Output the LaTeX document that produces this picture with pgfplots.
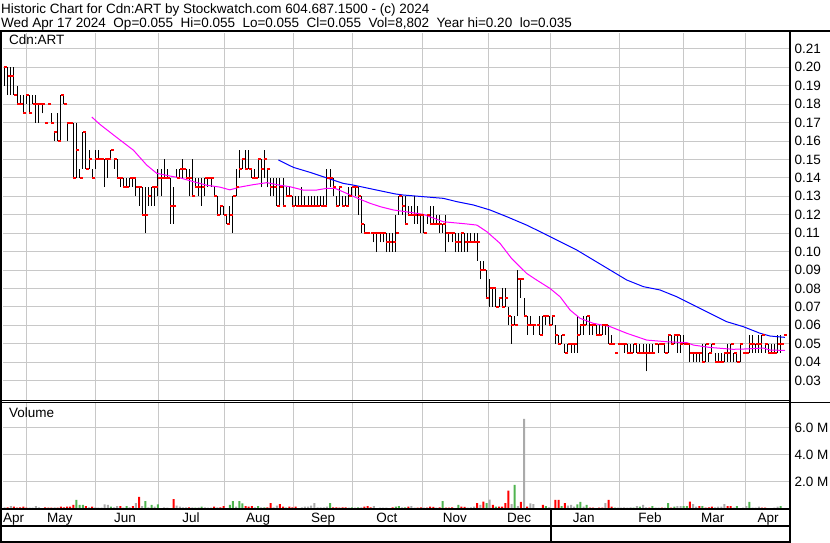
\documentclass[border=0pt]{standalone}
\usepackage{fontspec}
\setmainfont{Liberation Sans}
\usepackage{pgfplots}
\usepackage{pgfplotstable}
\pgfplotsset{compat=1.18}

\definecolor{gridgray}{RGB}{200,200,200}
\definecolor{volgreen}{RGB}{80,180,80}
\definecolor{volred}{RGB}{255,0,0}
\definecolor{volgray}{RGB}{170,170,170}
\definecolor{ma20}{RGB}{255,0,255}
\definecolor{ma50}{RGB}{0,0,255}
\definecolor{closered}{RGB}{255,0,0}

\pgfplotsset{
  panel/.style={
    scale only axis, width=787pt, anchor=south west,
    xmin=-0.48, xmax=250.96,
    xtick={7,29,49.3,70.2,92.2,111.3,133.5,154.5,174.6,196.6,216.9,236.9},
    xticklabels={},
    xmajorgrids, ymajorgrids,
    grid style={gridgray, line width=1pt},
    major tick length=0pt,
    axis line style={draw=none},
    yticklabel pos=right,
    tick label style={font=\fontsize{13.5}{15}\selectfont, /pgf/number format/assume math mode=true},
  },
  volbar/.style={ybar, bar width=2pt, bar shift=0pt, draw=none, fill=#1},
}

% daily bars: index, high, low, close
\pgfplotstableread{
i H L C
0 0.20 0.19 0.20
1 0.20 0.185 0.195
2 0.20 0.185 0.195
3 0.20 0.185 0.185
4 0.19 0.18 0.18
5 0.185 0.18 0.18
6 0.185 0.175 0.175
7 0.185 0.18 0.185
8 0.185 0.175 0.175
9 0.185 0.18 0.18
10 0.185 0.17 0.18
11 0.18 0.17 0.18
12 0.18 0.175 0.18
13 0.17 0.17 0.17
14 0.18 0.18 0.18
15 0.175 0.17 0.17
16 0.165 0.16 0.165
17 0.175 0.16 0.16
18 0.185 0.16 0.185
19 0.185 0.18 0.18
20 0.17 0.16 0.17
21 0.17 0.17 0.17
22 0.17 0.14 0.14
23 0.17 0.14 0.155
24 0.145 0.14 0.14
25 0.165 0.145 0.165
26 0.165 0.145 0.145
27 0.155 0.145 0.15
28 0.145 0.14 0.14
29 0.155 0.145 0.15
30 0.155 0.15 0.15
31 0.15 0.15 0.15
32 0.15 0.135 0.15
33 0.15 0.14 0.15
34 0.155 0.15 0.155
35 0.15 0.145 0.15
36 0.15 0.14 0.14
37 0.14 0.135 0.14
38 0.14 0.135 0.135
39 0.14 0.135 0.135
40 0.14 0.135 0.14
41 0.14 0.135 0.14
42 0.14 0.13 0.135
43 0.135 0.125 0.135
44 0.135 0.12 0.12
45 0.135 0.11 0.12
46 0.135 0.125 0.13
47 0.135 0.125 0.135
48 0.135 0.125 0.135
49 0.145 0.13 0.14
50 0.145 0.13 0.14
51 0.15 0.14 0.14
52 0.145 0.14 0.14
53 0.14 0.115 0.125
54 0.135 0.115 0.125
55 0.145 0.14 0.14
56 0.145 0.14 0.145
57 0.15 0.14 0.145
58 0.145 0.14 0.14
59 0.145 0.13 0.14
60 0.15 0.13 0.13
61 0.14 0.135 0.135
62 0.14 0.13 0.135
63 0.14 0.125 0.135
64 0.14 0.13 0.14
65 0.14 0.135 0.14
66 0.14 0.135 0.14
67 0.135 0.13 0.13
68 0.13 0.12 0.12
69 0.125 0.12 0.125
70 0.125 0.12 0.12
71 0.12 0.115 0.115
72 0.125 0.115 0.12
73 0.13 0.11 0.13
74 0.145 0.13 0.135
75 0.155 0.14 0.145
76 0.15 0.145 0.15
77 0.155 0.145 0.145
78 0.155 0.145 0.145
79 0.145 0.14 0.14
80 0.145 0.14 0.14
81 0.15 0.14 0.15
82 0.15 0.135 0.145
83 0.155 0.14 0.15
84 0.145 0.135 0.145
85 0.14 0.13 0.135
86 0.14 0.13 0.135
87 0.14 0.125 0.125
88 0.14 0.125 0.135
89 0.14 0.125 0.125
90 0.135 0.13 0.13
91 0.135 0.13 0.13
92 0.13 0.125 0.125
93 0.13 0.125 0.125
94 0.13 0.125 0.125
95 0.135 0.125 0.125
96 0.13 0.125 0.125
97 0.13 0.125 0.125
98 0.13 0.125 0.125
99 0.13 0.125 0.125
100 0.13 0.125 0.125
101 0.13 0.125 0.125
102 0.13 0.125 0.125
103 0.145 0.125 0.14
104 0.145 0.135 0.14
105 0.14 0.13 0.135
106 0.13 0.125 0.125
107 0.135 0.125 0.135
108 0.13 0.125 0.125
109 0.13 0.125 0.125
110 0.135 0.125 0.13
111 0.135 0.13 0.135
112 0.135 0.13 0.135
113 0.135 0.12 0.13
114 0.13 0.11 0.115
115 0.115 0.11 0.11
116 0.11 0.11 0.11
117 0.11 0.11 0.11
118 0.11 0.105 0.11
119 0.11 0.10 0.11
120 0.11 0.105 0.11
121 0.11 0.105 0.11
122 0.11 0.10 0.105
123 0.11 0.10 0.105
124 0.11 0.10 0.105
125 0.12 0.10 0.11
126 0.13 0.12 0.13
127 0.13 0.12 0.125
128 0.13 0.115 0.115
129 0.125 0.12 0.12
130 0.125 0.12 0.12
131 0.13 0.115 0.12
132 0.125 0.115 0.12
133 0.12 0.11 0.12
134 0.12 0.11 0.11
135 0.12 0.115 0.12
136 0.125 0.115 0.115
137 0.125 0.115 0.115
138 0.12 0.115 0.115
139 0.12 0.11 0.115
140 0.115 0.11 0.115
141 0.12 0.10 0.11
142 0.11 0.105 0.11
143 0.11 0.105 0.11
144 0.11 0.10 0.105
145 0.11 0.10 0.105
146 0.11 0.10 0.11
147 0.11 0.10 0.105
148 0.11 0.10 0.105
149 0.11 0.105 0.105
150 0.11 0.105 0.105
151 0.11 0.095 0.105
152 0.095 0.085 0.09
153 0.095 0.09 0.09
154 0.09 0.075 0.075
155 0.085 0.07 0.08
156 0.08 0.07 0.08
157 0.08 0.07 0.07
158 0.075 0.07 0.075
159 0.08 0.07 0.07
160 0.08 0.07 0.075
161 0.07 0.06 0.065
162 0.065 0.05 0.06
163 0.065 0.06 0.06
164 0.09 0.065 0.085
165 0.085 0.075 0.085
166 0.075 0.065 0.065
167 0.065 0.055 0.06
168 0.065 0.06 0.06
169 0.06 0.055 0.06
170 0.06 0.06 0.06
171 0.065 0.055 0.055
172 0.065 0.055 0.065
173 0.065 0.06 0.065
174 0.065 0.06 0.06
175 0.065 0.06 0.065
176 0.06 0.05 0.055
177 0.055 0.05 0.05
178 0.055 0.05 0.055
179 0.05 0.045 0.045
180 0.05 0.045 0.05
181 0.05 0.045 0.05
182 0.05 0.045 0.05
183 0.065 0.045 0.055
184 0.06 0.055 0.06
185 0.065 0.055 0.06
186 0.065 0.06 0.065
187 0.065 0.055 0.06
188 0.06 0.055 0.06
189 0.06 0.055 0.055
190 0.06 0.055 0.055
191 0.06 0.055 0.06
192 0.06 0.055 0.06
193 0.06 0.05 0.05
194 0.055 0.05 0.05
195 0.045 0.045 0.045
196 0.05 0.05 0.05
197 0.05 0.05 0.05
198 0.05 0.045 0.05
199 0.05 0.045 0.045
200 0.05 0.045 0.045
201 0.05 0.045 0.05
202 0.05 0.045 0.045
203 0.05 0.045 0.045
204 0.05 0.045 0.045
205 0.05 0.035 0.045
206 0.05 0.045 0.045
207 0.05 0.045 0.045
208 0.05 0.05 0.05
209 0.05 0.045 0.05
210 0.05 0.05 0.05
211 0.05 0.045 0.045
212 0.055 0.045 0.055
213 0.055 0.05 0.05
214 0.055 0.05 0.055
215 0.055 0.045 0.055
216 0.055 0.045 0.05
217 0.055 0.05 0.05
218 0.05 0.05 0.05
219 0.05 0.04 0.045
220 0.045 0.04 0.045
221 0.045 0.04 0.045
222 0.045 0.04 0.045
223 0.05 0.04 0.04
224 0.05 0.04 0.05
225 0.045 0.04 0.045
226 0.05 0.045 0.05
227 0.045 0.04 0.04
228 0.045 0.04 0.04
229 0.045 0.04 0.04
230 0.045 0.04 0.045
231 0.05 0.04 0.045
232 0.05 0.04 0.05
233 0.045 0.04 0.045
234 0.045 0.04 0.04
235 0.05 0.04 0.05
236 0.045 0.045 0.045
237 0.045 0.045 0.045
238 0.055 0.045 0.05
239 0.055 0.045 0.05
240 0.05 0.045 0.05
241 0.055 0.045 0.05
242 0.055 0.045 0.055
243 0.05 0.045 0.05
244 0.05 0.045 0.045
245 0.05 0.045 0.045
246 0.05 0.045 0.045
247 0.055 0.045 0.05
248 0.055 0.045 0.05
249 0.055 0.055 0.055
}\ohlc

% daily volume in millions: days that closed up, down and unchanged
\pgfplotstableread{
i v
23 0.67
24 0.30
25 0.30
34 0.17
39 0.22
45 0.59
47 0.30
49 0.35
53 0.07
61 0.10
63 0.17
72 0.30
73 0.59
75 0.59
76 0.42
81 0.22
83 0.12
90 0.10
104 0.44
111 0.12
113 0.12
125 0.17
126 0.22
128 0.12
140 0.59
145 0.30
154 0.44
157 0.17
163 1.78
173 0.22
178 0.22
183 0.35
184 0.52
186 0.30
195 0.10
201 0.10
203 0.17
207 0.22
212 0.44
214 0.17
217 0.22
218 0.22
223 0.22
234 0.22
238 0.52
248 0.22
}\volup

\pgfplotstableread{
i v
1 0.12
3 0.17
4 0.10
5 0.12
6 0.17
7 0.10
12 0.07
13 0.12
14 0.10
15 0.10
17 0.10
18 0.17
19 0.12
20 0.17
21 0.17
22 0.30
26 0.22
28 0.17
37 0.22
41 0.22
43 0.89
54 0.74
59 0.12
67 0.17
69 0.12
70 0.22
77 0.22
78 0.17
79 0.22
84 0.12
85 0.44
88 0.37
89 0.17
91 0.17
92 0.12
93 0.17
105 0.12
106 0.12
107 0.10
108 0.12
109 0.12
115 0.17
116 0.22
117 0.12
123 0.07
124 0.12
129 0.17
132 0.10
133 0.12
135 0.10
136 0.17
137 0.15
139 0.12
141 0.10
142 0.10
143 0.12
144 0.07
146 0.17
147 0.15
151 0.44
153 0.54
156 0.30
158 0.17
159 0.17
160 0.44
161 1.36
165 0.52
167 0.17
172 0.30
176 0.67
177 0.67
179 0.44
187 0.10
188 0.10
189 0.07
190 0.10
191 0.10
193 0.67
194 0.17
206 0.10
210 0.10
213 0.10
219 0.54
222 0.22
224 0.10
225 0.12
226 0.17
231 0.22
232 0.22
242 0.10
243 0.10
244 0.07
}\voldown

\pgfplotstableread{
i v
0 0.12
2 0.22
8 0.10
9 0.10
10 0.22
11 0.12
16 0.12
27 0.12
29 0.12
30 0.10
31 0.10
32 0.35
33 0.30
35 0.12
36 0.22
38 0.10
40 0.12
42 0.44
44 0.22
46 0.12
48 0.17
50 0.07
51 0.12
52 0.10
55 0.25
56 0.17
57 0.12
58 0.12
60 0.12
62 0.12
64 0.12
65 0.10
66 0.10
68 0.12
71 0.07
74 0.17
80 0.12
82 0.12
86 0.12
87 0.25
94 0.07
95 0.12
96 0.17
97 0.17
98 0.25
99 0.44
100 0.12
101 0.12
102 0.12
103 0.17
110 0.10
112 0.10
114 0.12
118 0.22
119 0.07
120 0.10
121 0.10
122 0.10
127 0.12
130 0.22
131 0.10
134 0.10
138 0.10
148 0.10
149 0.12
150 0.17
152 0.30
155 0.69
162 0.37
164 0.22
166 6.67
168 0.42
169 0.37
170 0.07
171 0.07
174 0.12
175 0.07
180 0.25
181 0.30
182 0.17
185 0.17
192 0.44
196 0.10
197 0.10
198 0.12
199 0.10
200 0.12
202 0.22
204 0.30
205 0.12
208 0.10
209 0.10
211 0.10
215 0.22
216 0.22
220 0.37
221 0.17
227 0.12
228 0.17
229 0.17
230 0.37
233 0.10
235 0.07
236 0.10
237 0.22
239 0.10
240 0.10
241 0.17
245 0.07
246 0.10
247 0.17
249 0.01
}\volflat

\newcommand{\gap}{\hspace{7.5pt}}

\begin{document}
\fontsize{13.5}{15}\selectfont
\begin{tikzpicture}[x=1pt,y=1pt]
\useasboundingbox (0,0) rectangle (830,543);

% price panel
\begin{axis}[panel, at={(3pt,143pt)}, height=367pt,
  ymin=0.0195, ymax=0.2186,
  ytick={0.03,0.04,0.05,0.06,0.07,0.08,0.09,0.10,0.11,0.12,0.13,0.14,0.15,0.16,0.17,0.18,0.19,0.20,0.21},
  yticklabel style={/pgf/number format/.cd, fixed, fixed zerofill, precision=2},
]
  % high-low lines
  \addplot[black, line width=1pt, mark=none,
    quiver={u=0, v=\thisrow{H}-\thisrow{L}}]
    table[x=i, y=L] {\ohlc};
  % closing ticks
  \addplot[only marks, mark=-, mark size=1.5pt, closered, mark options={line width=2pt}]
    table[x expr=\thisrow{i}+0.45, y=C] {\ohlc};
  \addplot[ma20, line width=1pt] coordinates {
    (27.9,0.173) (30.5,0.169) (35.8,0.162) (41.2,0.155) (45.4,0.147) (48.6,0.1425)
    (52.9,0.141) (56.1,0.140) (60.2,0.138) (64.6,0.136) (68.8,0.135) (72.0,0.1335)
    (75.2,0.135) (79.4,0.1363) (83.8,0.1374) (88.0,0.136) (91.2,0.1352) (95.4,0.1334)
    (99.7,0.1334) (102.9,0.1343) (105.6,0.1343) (108.1,0.1325) (111.4,0.130) (113.6,0.1284)
    (116.8,0.1262) (120.0,0.1244) (124.2,0.1226) (129.6,0.1213) (133.8,0.1202) (140.2,0.1162)
    (147.7,0.115) (150.9,0.1144) (154.1,0.1108) (158.3,0.1045) (162.0,0.0963) (166.8,0.0882)
    (170.0,0.0846) (174.3,0.080) (177.5,0.0755) (180.7,0.0683) (183.9,0.0638) (188.1,0.0611)
    (193.5,0.0593) (198.8,0.0557) (205.2,0.0520) (211.6,0.0511) (218.0,0.0506) (220.1,0.0493)
    (225.4,0.0480) (232.8,0.047) (237.1,0.0472) (242.4,0.0477) (244.6,0.0466) (249.3,0.0464)
  };
  \addplot[ma50, line width=1pt] coordinates {
    (87.5,0.1497) (92.3,0.1457) (97.6,0.143) (102.9,0.140) (108.2,0.137) (111.4,0.1361)
    (118.9,0.1334) (124.8,0.1313) (127.4,0.1307) (133.8,0.1298) (140.2,0.1289) (144.5,0.1271)
    (149.8,0.1253) (155.1,0.1226) (160.4,0.119) (166.8,0.1144) (172.1,0.110) (177.5,0.1054)
    (182.8,0.1009) (188.1,0.0955) (193.5,0.0900) (198.8,0.0846) (204.1,0.081) (209.4,0.0792)
    (214.8,0.0755) (220.1,0.071) (225.4,0.0665) (230.7,0.062) (236.0,0.0593) (241.4,0.0557)
    (244.6,0.0542) (249.3,0.0535)
  };
\end{axis}

% volume panel
\begin{axis}[panel, at={(3pt,34pt)}, height=106pt,
  ymin=0, ymax=7.85,
  ytick={2,4,6}, yticklabels={2.0 M,4.0 M,6.0 M},
  extra x ticks={2.9,17.7,38.5,59.6,81.0,101.8,122.2,143.9,164.4,185.1,206.2,226.3,244.0},
  extra x tick labels={Apr,May,Jun,Jul,Aug,Sep,Oct,Nov,Dec,Jan,Feb,Mar,Apr},
  extra x tick style={grid=none, major tick length=0pt,
    xticklabel style={anchor=base, yshift=-14pt}},
]
  \addplot[volbar=volgreen] table[x=i, y=v] {\volup};
  \addplot[volbar=volred] table[x=i, y=v] {\voldown};
  \addplot[volbar=volgray] table[x=i, y=v] {\volflat};
  \node[anchor=base] at (axis cs:86.4,0) [yshift=-31pt] {2023};
  \node[anchor=base] at (axis cs:212,0) [yshift=-31pt] {2024};
\end{axis}

% header and panel captions
\node[anchor=base west, inner sep=0pt] at (1,529) {Historic Chart for Cdn:ART by Stockwatch.com 604.687.1500 - (c) 2024};
\node[anchor=base west, inner sep=0pt] at (1,515) {Wed Apr 17 2024\gap Op=0.055\gap Hi=0.055\gap Lo=0.055\gap Cl=0.055\gap Vol=8,802\gap Year hi=0.20\gap lo=0.035};
\node[anchor=base west, inner sep=0pt] at (9,498) {Cdn:ART};
\node[anchor=base west, inner sep=0pt] at (9,125) {Volume};

% frame
\draw[line width=2pt] (0,512) -- (830,512);
\draw[line width=2pt] (1,0) -- (1,512);
\draw[line width=2pt] (790,0) -- (790,512);
\draw[line width=1pt] (0,142) -- (790,142);
\draw[line width=1pt] (0,140) -- (830,140);
\draw[line width=2pt] (0,34) -- (790,34);
\draw[line width=2pt] (0,16.5) -- (790,16.5);
\draw[line width=2pt] (0,1) -- (790,1);
\draw[line width=1.3pt] (551,0) -- (551,34);
\end{tikzpicture}
\end{document}
